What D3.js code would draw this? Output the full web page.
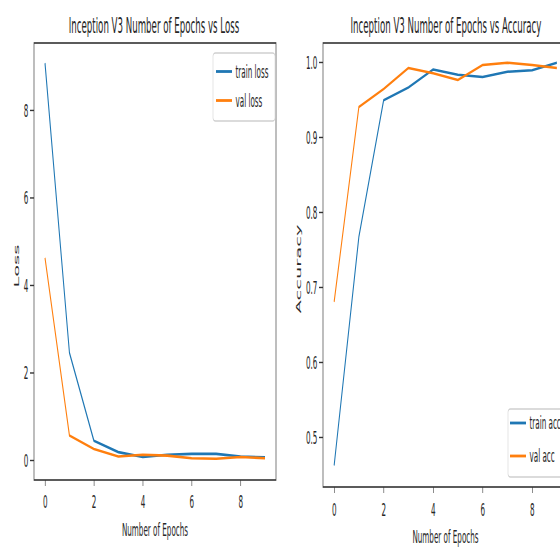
<!DOCTYPE html>
<html>
<head>
<meta charset="utf-8">
<script src="https://cdn.jsdelivr.net/npm/d3@7"></script>
<style>
  html, body { margin: 0; padding: 0; background: #fff; }
  svg { display: block; }
  text { font-family: "DejaVu Sans", sans-serif; }
</style>
</head>
<body>
<script>
// ---- data ----
const epochs = [0, 1, 2, 3, 4, 5, 6, 7, 8, 9];
const trainLoss = [9.07, 2.45, 0.44, 0.18, 0.07, 0.12, 0.14, 0.14, 0.08, 0.06];
const valLoss   = [4.62, 0.56, 0.25, 0.08, 0.12, 0.10, 0.04, 0.03, 0.07, 0.04];
const trainAcc  = [0.462, 0.767, 0.949, 0.966, 0.990, 0.983, 0.980, 0.987, 0.989, 0.999];
const valAcc    = [0.680, 0.940, 0.964, 0.992, 0.985, 0.976, 0.996, 0.999, 0.996, 0.992];
const xTicks = [0, 2, 4, 6, 8];
const lossTicks = [0, 2, 4, 6, 8];
const accTicks = [0.5, 0.6, 0.7, 0.8, 0.9, 1.0];
const titles = ["Inception V3 Number of Epochs vs Loss", "Inception V3 Number of Epochs vs Accuracy"];
const xLabel = "Number of Epochs";
const yLabels = ["Loss", "Accuracy"];
const legendLabels = [["train loss", "val loss"], ["train acc", "val acc"]];

const BLUE = "#1f77b4", ORANGE = "#ff7f0e";
const S = 0.4;                 // horizontal squeeze of the whole picture
const V = x => x / S;          // pixel -> virtual x

const svg = d3.select("body").append("svg").attr("width", 560).attr("height", 552);
svg.append("rect").attr("width", 560).attr("height", 552).attr("fill", "#fff");
const root = svg.append("g").attr("transform", `scale(${S},1)`);

const panels = [
  { left: 34, right: 276, top: 43, bottom: 480, xDom: [-0.45, 9.45], yDom: [-0.457, 9.53],
    series: [trainLoss, valLoss], yTicks: lossTicks, fmt: d3.format("d"),
    title: titles[0], titleX: 154, ylab: yLabels[0], ylabX: 19, ylabY: 266,
    leg: { x: 213, y: 53, w: 62, h: 68, l1: 71.5, l2: 100.5, hx: 216 }, labels: legendLabels[0] },
  { left: 323, right: 568, top: 43, bottom: 487, xDom: [-0.45, 9.45], yDom: [0.4333, 1.0253],
    series: [trainAcc, valAcc], yTicks: accTicks, fmt: d3.format(".1f"),
    title: titles[1], titleX: 446, ylab: yLabels[1], ylabX: 301, ylabY: 269,
    leg: { x: 508, y: 409, w: 62, h: 68, l1: 423, l2: 456, hx: 510 }, labels: legendLabels[1] }
];

panels.forEach((p, pi) => {
  const g = root.append("g");
  const x = d3.scaleLinear().domain(p.xDom).range([V(p.left), V(p.right)]);
  const y = d3.scaleLinear().domain(p.yDom).range([p.bottom, p.top]);

  // lines
  const line = d3.line().x((d, i) => x(epochs[i])).y(d => y(d));
  [BLUE, ORANGE].forEach((c, si) => {
    g.append("path").datum(p.series[si])
      .attr("d", line).attr("fill", "none").attr("stroke", c)
      .attr("stroke-width", 2.6).attr("stroke-linejoin", "round").attr("stroke-linecap", "butt");
  });

  // axes
  const xa = g.append("g").attr("transform", `translate(0,${p.bottom})`)
    .call(d3.axisBottom(x).tickValues(xTicks).tickSize(6).tickPadding(pi === 0 ? 9 : 10).tickFormat(d3.format("d")));
  const ya = g.append("g").attr("transform", `translate(${V(p.left)},0)`)
    .call(d3.axisLeft(y).tickValues(p.yTicks).tickSize(10).tickPadding(4).tickFormat(p.fmt));
  [xa, ya].forEach(a => {
    a.select(".domain").remove();
    a.selectAll(".tick line").attr("stroke", "#333").attr("stroke-width", 1.4);
    a.selectAll(".tick text").attr("fill", "#262626").style("font-size", "18px")
      .style("font-family", "DejaVu Sans, sans-serif");
  });
  ya.selectAll(".tick text").attr("dy", "0.36em");

  // spines
  g.append("rect").attr("x", V(p.left)).attr("y", p.top)
    .attr("width", V(p.right) - V(p.left)).attr("height", p.bottom - p.top)
    .attr("fill", "none").attr("stroke", "#333").attr("stroke-width", 1.6);

  // title
  g.append("text").attr("x", V(p.titleX))
    .attr("y", 33).attr("text-anchor", "middle").attr("fill", "#262626")
    .style("font-size", "21.6px").text(p.title);

  // x label
  g.append("text").attr("x", x(4.5)).attr("y", pi === 0 ? 536 : 543)
    .attr("text-anchor", "middle").attr("fill", "#262626").style("font-size", "18px").text(xLabel);

  // y label
  g.append("text").attr("transform", `translate(${V(p.ylabX)},${p.ylabY}) rotate(-90)`)
    .attr("text-anchor", "middle").attr("fill", "#262626").style("font-size", "19.5px")
    .text(p.ylab);

  // legend
  const L = p.leg;
  const lg = g.append("g");
  lg.append("rect").attr("x", V(L.x)).attr("y", L.y).attr("width", V(L.w)).attr("height", L.h)
    .attr("rx", 6).attr("ry", 3).attr("fill", "#fff").attr("fill-opacity", 0.8)
    .attr("stroke", "#d0d0d0").attr("stroke-width", 1.4);
  [[BLUE, L.l1], [ORANGE, L.l2]].forEach(([c, ly], k) => {
    lg.append("line").attr("x1", V(L.hx)).attr("x2", V(L.hx + 16)).attr("y1", ly).attr("y2", ly)
      .attr("stroke", c).attr("stroke-width", 2.8);
    lg.append("text").attr("x", V(L.hx + 19.5)).attr("y", ly).attr("dy", "0.36em")
      .attr("fill", "#262626").style("font-size", "18px").text(p.labels[k]);
  });
});
</script>
</body>
</html>
